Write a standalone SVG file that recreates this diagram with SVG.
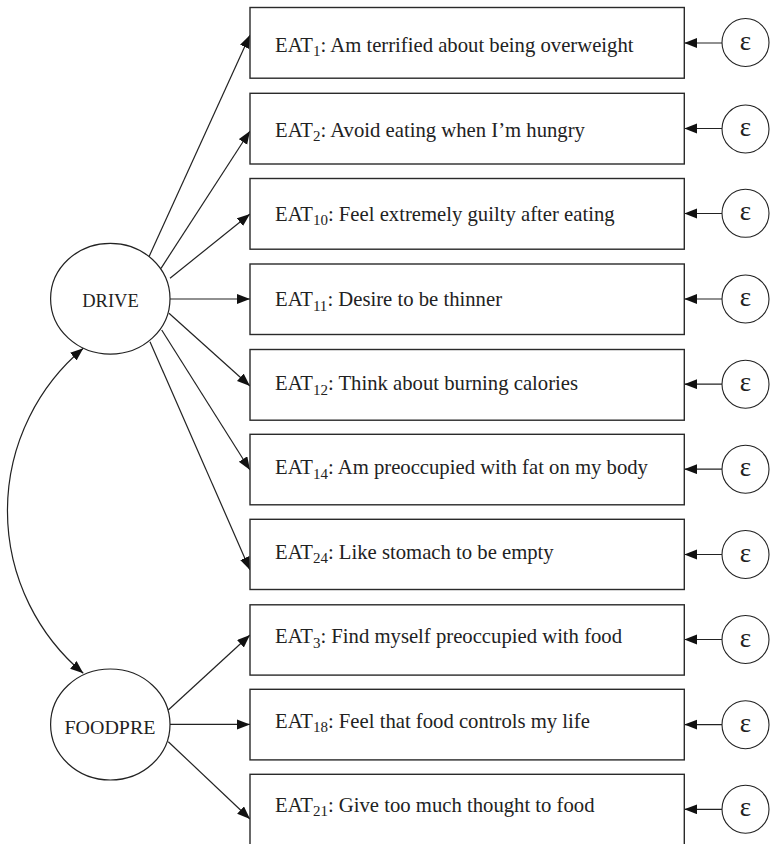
<svg xmlns="http://www.w3.org/2000/svg" width="770" height="844" viewBox="0 0 770 844">
<defs>
<style>
.box{fill:#fff;stroke:#2a2a2a;stroke-width:1.4}
.lat{fill:#fff;stroke:#222;stroke-width:1.2}
.err{fill:#fff;stroke:#222;stroke-width:1.1}
.t{font-family:"Liberation Serif","Times New Roman",serif;font-size:20.7px;fill:#222}
.sub{font-size:15px}
.lt{font-family:"Liberation Serif","Times New Roman",serif;font-size:18.5px;fill:#222;text-anchor:middle}
.eps{font-family:"Liberation Serif","DejaVu Serif",serif;font-size:27px;fill:#222;text-anchor:middle}
.c{fill:none;stroke:#222;stroke-width:1.2}
</style>
<marker id="ah" markerUnits="userSpaceOnUse" markerWidth="14" markerHeight="11" refX="13" refY="5" orient="auto-start-reverse" viewBox="0 0 14 11">
<path d="M0,0 L13,5 L0,10 z" fill="#111"/>
</marker>
</defs>

<g id="connectors">
<path class="c" d="M149,256.7 L250,35" marker-end="url(#ah)"/>
<path class="c" d="M161,268.3 L250,131" marker-end="url(#ah)"/>
<path class="c" d="M170,278.3 L250,214" marker-end="url(#ah)"/>
<path class="c" d="M170,299 L250,299" marker-end="url(#ah)"/>
<path class="c" d="M169,313.3 L250,386" marker-end="url(#ah)"/>
<path class="c" d="M161.7,330 L250,470" marker-end="url(#ah)"/>
<path class="c" d="M150,341.7 L250,570" marker-end="url(#ah)"/>
<path class="c" d="M168.3,710 L250,635" marker-end="url(#ah)"/>
<path class="c" d="M170,724.4 L250,724.4" marker-end="url(#ah)"/>
<path class="c" d="M168.3,741.7 L250,819" marker-end="url(#ah)"/>
<path class="c" d="M83.3,348.3 A212,212 0 0 0 83.3,673.3" marker-start="url(#ah)" marker-end="url(#ah)"/>
<path class="c" d="M722,43 L684.3,43" marker-end="url(#ah)"/>
<path class="c" d="M722,128.5 L684.3,128.5" marker-end="url(#ah)"/>
<path class="c" d="M722,213.5 L684.3,213.5" marker-end="url(#ah)"/>
<path class="c" d="M722,299 L684.3,299" marker-end="url(#ah)"/>
<path class="c" d="M722,384.2 L684.3,384.2" marker-end="url(#ah)"/>
<path class="c" d="M722,469.2 L684.3,469.2" marker-end="url(#ah)"/>
<path class="c" d="M722,554.5 L684.3,554.5" marker-end="url(#ah)"/>
<path class="c" d="M722,639.5 L684.3,639.5" marker-end="url(#ah)"/>
<path class="c" d="M722,724.6 L684.3,724.6" marker-end="url(#ah)"/>
<path class="c" d="M722,809.3 L684.3,809.3" marker-end="url(#ah)"/>
</g>

<g id="DRIVE">
<ellipse class="lat" cx="110.3" cy="298.7" rx="59.7" ry="55.4"/>
<text class="lt" x="110.5" y="306.5">DRIVE</text>
</g>
<g id="FOODPRE">
<ellipse class="lat" cx="110.3" cy="724.5" rx="59.7" ry="55.5"/>
<text class="lt" x="110" y="733.5" textLength="91" lengthAdjust="spacingAndGlyphs">FOODPRE</text>
</g>

<g id="EAT1">
<rect class="box" x="250" y="7.5" width="434.3" height="70.7"/>
<text class="t" x="275" y="51.7">EAT<tspan class="sub" dy="4.5">1</tspan><tspan dy="-4.5">: Am terrified about being overweight</tspan></text>
</g>
<g id="EAT2">
<rect class="box" x="250" y="93.3" width="434.3" height="70.7"/>
<text class="t" x="275" y="136.5">EAT<tspan class="sub" dy="4.5">2</tspan><tspan dy="-4.5">: Avoid eating when I’m hungry</tspan></text>
</g>
<g id="EAT10">
<rect class="box" x="250" y="178.5" width="434.3" height="70.7"/>
<text class="t" x="275" y="220.5">EAT<tspan class="sub" dy="4.5">10</tspan><tspan dy="-4.5">: Feel extremely guilty after eating</tspan></text>
</g>
<g id="EAT11">
<rect class="box" x="250" y="264" width="434.3" height="70.5"/>
<text class="t" x="275" y="306">EAT<tspan class="sub" dy="4.5">11</tspan><tspan dy="-4.5">: Desire to be thinner</tspan></text>
</g>
<g id="EAT12">
<rect class="box" x="250" y="349.5" width="434.3" height="70.7"/>
<text class="t" x="275" y="390">EAT<tspan class="sub" dy="4.5">12</tspan><tspan dy="-4.5">: Think about burning calories</tspan></text>
</g>
<g id="EAT14">
<rect class="box" x="250" y="434.3" width="434.3" height="70.5"/>
<text class="t" x="275" y="474.3">EAT<tspan class="sub" dy="4.5">14</tspan><tspan dy="-4.5">: Am preoccupied with fat on my body</tspan></text>
</g>
<g id="EAT24">
<rect class="box" x="250" y="519.3" width="434.3" height="70.2"/>
<text class="t" x="275" y="558.8">EAT<tspan class="sub" dy="4.5">24</tspan><tspan dy="-4.5">: Like stomach to be empty</tspan></text>
</g>
<g id="EAT3">
<rect class="box" x="250" y="604.8" width="434.3" height="70.3"/>
<text class="t" x="275" y="643.3">EAT<tspan class="sub" dy="4.5">3</tspan><tspan dy="-4.5">: Find myself preoccupied with food</tspan></text>
</g>
<g id="EAT18">
<rect class="box" x="250" y="689.3" width="434.3" height="70.6"/>
<text class="t" x="275" y="727.7">EAT<tspan class="sub" dy="4.5">18</tspan><tspan dy="-4.5">: Feel that food controls my life</tspan></text>
</g>
<g id="EAT21">
<rect class="box" x="250" y="774.3" width="434.3" height="72"/>
<text class="t" x="275" y="811.7">EAT<tspan class="sub" dy="4.5">21</tspan><tspan dy="-4.5">: Give too much thought to food</tspan></text>
</g>

<g id="e1"><ellipse class="err" cx="745.5" cy="42.5" rx="23.5" ry="24"/><text class="eps" x="745.5" y="49.5">ε</text></g>
<g id="e2"><ellipse class="err" cx="745.5" cy="129" rx="23.5" ry="24"/><text class="eps" x="745.5" y="136">ε</text></g>
<g id="e3"><ellipse class="err" cx="745.5" cy="213.3" rx="23.5" ry="24"/><text class="eps" x="745.5" y="220.3">ε</text></g>
<g id="e4"><ellipse class="err" cx="745.5" cy="299" rx="23.5" ry="24"/><text class="eps" x="745.5" y="306">ε</text></g>
<g id="e5"><ellipse class="err" cx="745.5" cy="384.2" rx="23.5" ry="24"/><text class="eps" x="745.5" y="391.2">ε</text></g>
<g id="e6"><ellipse class="err" cx="745.5" cy="469.2" rx="23.5" ry="24"/><text class="eps" x="745.5" y="476.2">ε</text></g>
<g id="e7"><ellipse class="err" cx="745.5" cy="554.5" rx="23.5" ry="24"/><text class="eps" x="745.5" y="561.5">ε</text></g>
<g id="e8"><ellipse class="err" cx="745.5" cy="639.5" rx="23.5" ry="24"/><text class="eps" x="745.5" y="646.5">ε</text></g>
<g id="e9"><ellipse class="err" cx="745.5" cy="724.7" rx="23.5" ry="24"/><text class="eps" x="745.5" y="731.7">ε</text></g>
<g id="e10"><ellipse class="err" cx="745.5" cy="809.2" rx="23.5" ry="24"/><text class="eps" x="745.5" y="816.2">ε</text></g>
</svg>
